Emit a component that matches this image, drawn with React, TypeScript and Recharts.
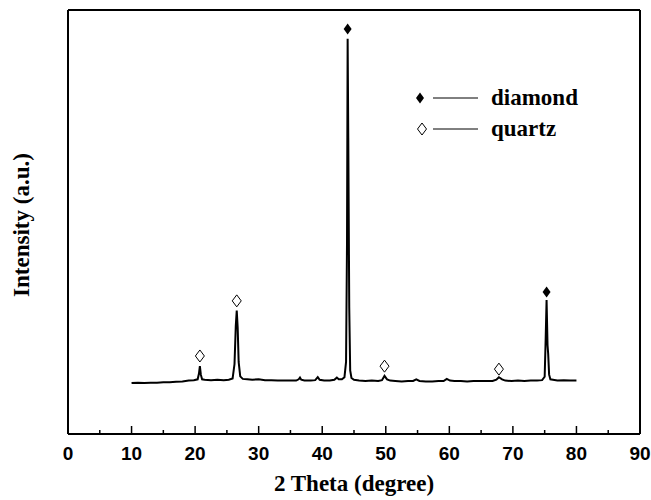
import React from "react";
import {
  ComposedChart,
  Line,
  Scatter,
  XAxis,
  YAxis,
  Label,
  ReferenceLine,
} from "recharts";

// XRD pattern (intensity in arbitrary units, 0-100 scale)
const twoTheta = [
  10, 11, 12, 13, 14, 15, 16, 17, 18, 19, 19.8, 20.4, 20.6, 20.75, 20.9, 21.1,
  21.5, 22.5, 23.5, 24.5, 25.3, 25.9, 26.2, 26.4, 26.55, 26.7, 26.85, 27.1,
  27.5, 28.2, 29, 30, 31, 32, 33, 34, 35, 35.9, 36.3, 36.5, 36.7, 37.2, 38.2,
  38.9, 39.3, 39.6, 40.3, 41.2, 41.9, 42.3, 42.6, 43.1, 43.5, 43.75, 43.9, 44.0,
  44.1, 44.25, 44.4, 44.6, 45, 45.8, 46.8, 47.8, 48.8, 49.4, 49.8, 50.2, 50.7,
  51.5, 52.5, 53.5, 54.3, 54.8, 55.3, 56.3, 57.3, 58.3, 59.1, 59.6, 60.1, 60.8,
  61.8, 62.8, 63.8, 64.8, 65.8, 66.8, 67.4, 67.8, 68.3, 68.8, 69.8, 70.8, 71.8,
  72.8, 73.8, 74.6, 75.0, 75.15, 75.3, 75.45, 75.55, 75.7, 75.9, 76.3, 77, 78,
  79, 80,
];
const intensity = [
  12.0, 12.1, 12.0, 12.1, 12.1, 12.2, 12.2, 12.3, 12.4, 12.6, 12.7, 12.9, 14.2,
  16.0, 14.0, 12.9, 12.8, 12.7, 12.8, 12.7, 12.8, 13.1, 16.5, 25.5, 29.1, 25.0,
  17.0, 13.6, 13.0, 12.9, 12.8, 12.9, 12.7, 12.7, 12.6, 12.6, 12.6, 12.6, 12.9,
  13.3, 12.8, 12.6, 12.6, 12.7, 13.4, 12.8, 12.6, 12.6, 12.8, 13.3, 12.9, 12.9,
  13.4, 17, 45, 93.2, 70, 30, 15, 13.2, 12.8, 12.6, 12.5, 12.6, 12.5, 12.7,
  13.7, 12.9, 12.6, 12.5, 12.4, 12.5, 12.5, 12.9, 12.5, 12.4, 12.4, 12.5, 12.5,
  13.0, 12.6, 12.5, 12.5, 12.4, 12.5, 12.5, 12.5, 12.5, 12.8, 13.4, 12.9, 12.6,
  12.5, 12.6, 12.5, 12.6, 12.6, 12.7, 13.5, 22, 31.6, 21, 19, 14, 12.9, 12.8,
  12.6, 12.7, 12.6, 12.6,
];

// peak markers
const diamondPeaks = [44.0, 75.3];
const diamondMarkY = [95.5, 33.5];
const quartzPeaks = [20.75, 26.55, 49.8, 67.8];
const quartzMarkY = [18.4, 31.4, 16.0, 15.3];

const majorTicks = [0, 10, 20, 30, 40, 50, 60, 70, 80, 90];
const minorTicks = [5, 15, 25, 35, 45, 55, 65, 75, 85];

const legendItems = [
  { label: "diamond", filled: true },
  { label: "quartz", filled: false },
];

const SERIF = "'Liberation Serif', 'Times New Roman', serif";
const SANS = "'Liberation Sans', Arial, sans-serif";

const pattern = twoTheta.map((x, i) => ({ x, y: intensity[i] }));
const diamondData = diamondPeaks.map((x, i) => ({ x, y: diamondMarkY[i] }));
const quartzData = quartzPeaks.map((x, i) => ({ x, y: quartzMarkY[i] }));
const allTicks = [...majorTicks, ...minorTicks].sort((a, b) => a - b);

function FilledDiamond(props: any) {
  const { cx, cy } = props;
  return (
    <path
      d={`M${cx},${cy - 5.5} L${cx + 4},${cy} L${cx},${cy + 5.5} L${cx - 4},${cy} Z`}
      fill="#000"
    />
  );
}

function OpenDiamond(props: any) {
  const { cx, cy } = props;
  return (
    <path
      d={`M${cx},${cy - 6} L${cx + 4.5},${cy} L${cx},${cy + 6} L${cx - 4.5},${cy} Z`}
      fill="#fff"
      stroke="#000"
      strokeWidth={1}
    />
  );
}

// inward tick marks (long for majors, short for minors) plus the label
function AxisTick(props: any) {
  const { x, y, payload } = props;
  const major = majorTicks.includes(payload.value);
  return (
    <g>
      <line x1={x} x2={x} y1={y} y2={y - (major ? 8 : 4)} stroke="#000" strokeWidth={1.5} />
      {major && (
        <text
          x={x}
          y={y + 26}
          textAnchor="middle"
          fontFamily={SANS}
          fontWeight="bold"
          fontSize={19}
          fill="#000"
        >
          {payload.value}
        </text>
      )}
    </g>
  );
}

function PeakLegend() {
  return (
    <svg
      width={200}
      height={70}
      style={{ position: "absolute", left: 410, top: 80 }}
    >
      {legendItems.map((it, i) => {
        const y = 18 + i * 31;
        return (
          <g key={it.label}>
            {it.filled ? <FilledDiamond cx={10} cy={y} /> : <OpenDiamond cx={12} cy={y} />}
            <line x1={23} x2={68} y1={y} y2={y} stroke="#000" strokeWidth={1} />
            <text
              x={81}
              y={y + 7}
              fontFamily={SERIF}
              fontWeight="bold"
              fontSize={23}
              fill="#000"
            >
              {it.label}
            </text>
          </g>
        );
      })}
    </svg>
  );
}

export default function App() {
  return (
    <div style={{ position: "absolute", left: 0, top: 0, width: 651, height: 500, background: "#fff" }}>
      <ComposedChart
        width={651}
        height={500}
        margin={{ top: 10, right: 11, bottom: 0, left: 0 }}
      >
        <XAxis
          dataKey="x"
          type="number"
          domain={[0, 90]}
          ticks={allTicks}
          interval={0}
          allowDataOverflow
          height={66}
          tickSize={0}
          tickMargin={0}
          tickLine={false}
          axisLine={{ stroke: "#000", strokeWidth: 2 }}
          tick={<AxisTick />}
        >
          <Label
            value="2 Theta (degree)"
            position="insideBottom"
            offset={9}
            style={{ fill: "#000", fontSize: 23, fontWeight: "bold", fontFamily: SERIF }}
          />
        </XAxis>
        <YAxis
          type="number"
          domain={[0, 100]}
          allowDataOverflow
          width={68}
          tick={false}
          tickLine={false}
          axisLine={{ stroke: "#000", strokeWidth: 2 }}
        >
          <Label
            content={() => (
              <text
                transform="translate(29,225) rotate(-90)"
                textAnchor="middle"
                fontFamily={SERIF}
                fontWeight="bold"
                fontSize={23}
                fill="#000"
              >
                Intensity (a.u.)
              </text>
            )}
          />
        </YAxis>

        {/* top and right edges of the frame */}
        <ReferenceLine y={100} stroke="#000" strokeWidth={2} />
        <ReferenceLine x={90} stroke="#000" strokeWidth={2} />

        <Line
          data={pattern}
          dataKey="y"
          type="linear"
          stroke="#000"
          strokeWidth={2}
          dot={false}
          isAnimationActive={false}
        />
        <Scatter
          data={diamondData}
          dataKey="y"
          shape={(p: any) => <FilledDiamond cx={p.cx} cy={p.cy} />}
          isAnimationActive={false}
        />
        <Scatter
          data={quartzData}
          dataKey="y"
          shape={(p: any) => <OpenDiamond cx={p.cx} cy={p.cy} />}
          isAnimationActive={false}
        />
      </ComposedChart>
      <PeakLegend />
    </div>
  );
}
